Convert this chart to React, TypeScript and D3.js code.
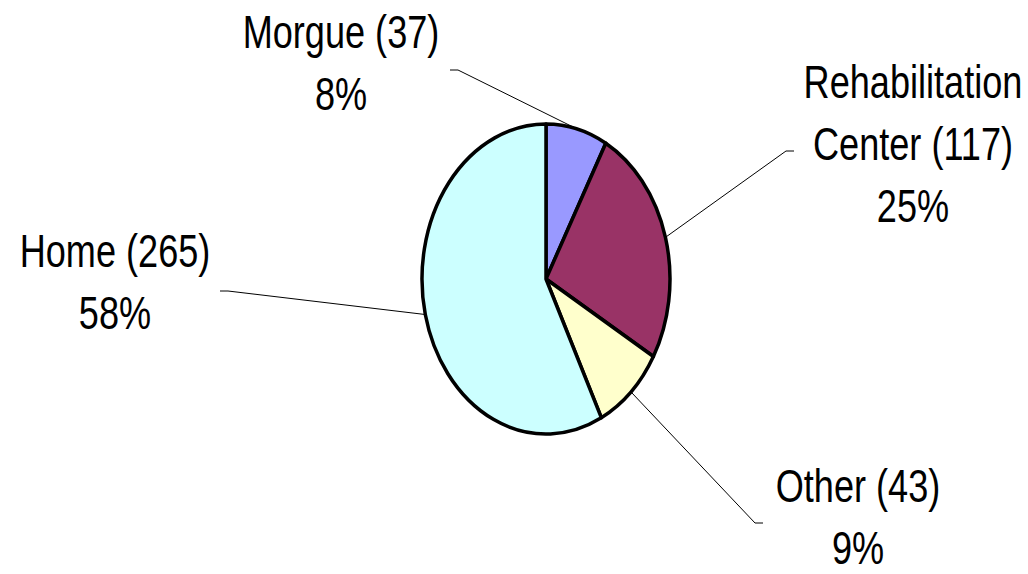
import React from "react";
import * as d3 from "d3";

const categories = ["Morgue", "Rehabilitation Center", "Other", "Home"];
const counts = [37, 117, 43, 265];
const percents = ["8%", "25%", "9%", "58%"];
const colors = ["#9999FF", "#993366", "#FFFFCC", "#CCFFFF"];

// label layout: lines of text, text center, first baseline, leader elbow
const labelLines = [
  ["Morgue (37)", "8%"],
  ["Rehabilitation", "Center (117)", "25%"],
  ["Other (43)", "9%"],
  ["Home (265)", "58%"],
];
const labelPos = [
  { x: 341, y: 48 },
  { x: 913, y: 98 },
  { x: 858, y: 502 },
  { x: 115, y: 267 },
];
const elbows = [
  { x1: 450, x2: 458, y: 70 },
  { x1: 794, x2: 786, y: 151 },
  { x1: 763, x2: 755, y: 523 },
  { x1: 220, x2: 228, y: 291 },
];

const W = 1028;
const H = 574;
const cx = 546;
const cy = 279;
const rx = 124;
const ry = 155;

function pt(a: number) {
  return [cx + rx * Math.sin(a), cy - ry * Math.cos(a)];
}

function slicePath(a0: number, a1: number) {
  const [x0, y0] = pt(a0);
  const [x1, y1] = pt(a1);
  const large = a1 - a0 > Math.PI ? 1 : 0;
  return `M${cx},${cy}L${x0},${y0}A${rx},${ry} 0 ${large} 1 ${x1},${y1}Z`;
}

export default function App() {
  const pie = d3.pie<number>().sort(null).value((d) => d)(counts);
  const lineH = 62;
  return (
    <svg
      width={W}
      height={H}
      style={{ position: "absolute", left: 0, top: 0, background: "#fff" }}
    >
      {pie.map((p, i) => (
        <path
          key={i}
          d={slicePath(p.startAngle, p.endAngle)}
          fill={colors[i]}
          stroke="#000"
          strokeWidth={3.5}
          strokeLinejoin="round"
        />
      ))}
      {pie.map((p, i) => {
        const mid = (p.startAngle + p.endAngle) / 2;
        const [sx, sy] = pt(mid);
        const e = elbows[i];
        return (
          <polyline
            key={"l" + i}
            points={`${e.x1},${e.y} ${e.x2},${e.y} ${sx},${sy}`}
            fill="none"
            stroke="#000"
            strokeWidth={1}
          />
        );
      })}
      {labelLines.map((lines, i) => (
        <g
          key={"t" + i}
          transform={`translate(${labelPos[i].x},${labelPos[i].y}) scale(0.785,1)`}
        >
          {lines.map((t, j) => (
            <text
              key={j}
              x={0}
              y={j * lineH}
              textAnchor="middle"
              fontFamily="'Liberation Sans', Arial, sans-serif"
              fontSize={46}
              fill="#000"
            >
              {t}
            </text>
          ))}
        </g>
      ))}
    </svg>
  );
}
